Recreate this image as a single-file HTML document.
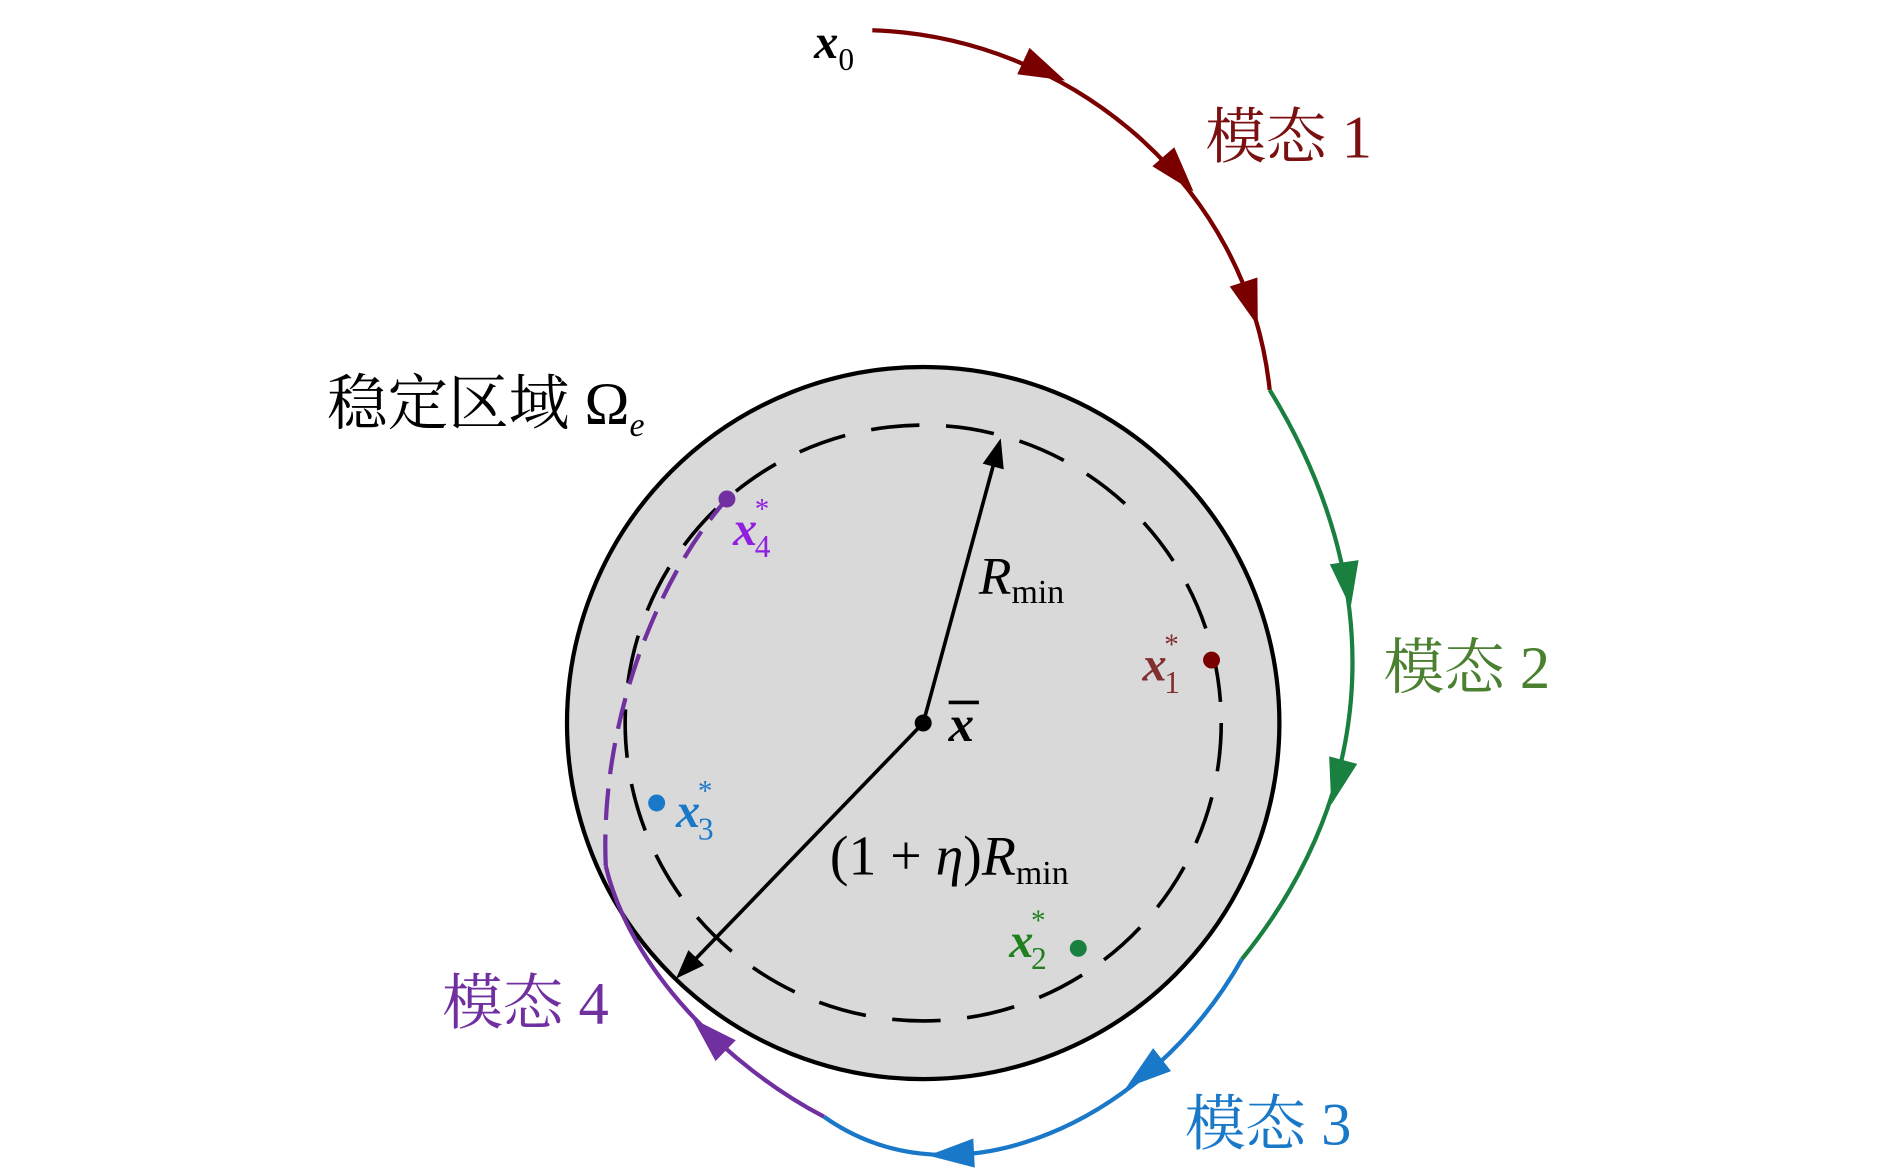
<!DOCTYPE html>
<html><head><meta charset="utf-8"><style>
html,body{margin:0;padding:0;background:#fff;}
svg{display:block;}
text{font-family:"Liberation Serif","Noto Serif CJK SC",serif;}
.m{font-style:italic;font-weight:bold;}
</style></head><body>
<svg width="1890" height="1176" viewBox="0 0 1560 971" preserveAspectRatio="none" xmlns="http://www.w3.org/2000/svg">
<rect width="1560" height="971" fill="#fff"/>
<circle cx="762" cy="597" r="294" fill="#d9d9d9" stroke="#000" stroke-width="3.5"/>
<circle cx="762" cy="597" r="246" fill="none" stroke="#000" stroke-width="3" stroke-dasharray="40,22"/>
<line x1="762" y1="597" x2="821" y2="380" stroke="#000" stroke-width="3"/>
<g transform="translate(826,362) rotate(-75)"><polygon points="0,0 -24,-9 -24,9" fill="#000"/></g>
<line x1="762" y1="597" x2="572" y2="794" stroke="#000" stroke-width="3"/>
<g transform="translate(558,808) rotate(134)"><polygon points="0,0 -24,-9 -24,9" fill="#000"/></g>
<circle cx="762" cy="597" r="7" fill="#000"/>
<path d="M720,25 C880,30 1030,150 1048,322" fill="none" stroke="#7a0000" stroke-width="3.5"/>
<path d="M1048,322 C1145,480 1140,650 1025,792" fill="none" stroke="#1a8040" stroke-width="3.5"/>
<path d="M1025,792 C950,925 790,1000 680,922" fill="none" stroke="#1a78c8" stroke-width="3.5"/>
<path d="M680,922 C600,880 520,800 500,715" fill="none" stroke="#7030a0" stroke-width="3.5"/>
<path d="M500,715 C495,600 540,480 600,412" fill="none" stroke="#7030a0" stroke-width="3.5" stroke-dasharray="26,12"/>
<g fill="#7a0000">
<g transform="translate(861,58) rotate(25)"><polygon points="20,0 -18,-12 -18,12"/></g>
<g transform="translate(972,143) rotate(49)"><polygon points="20,0 -18,-12 -18,12"/></g>
<g transform="translate(1032,250) rotate(72)"><polygon points="20,0 -18,-12 -18,12"/></g>
</g>
<g fill="#1a8040">
<g transform="translate(1112,482) rotate(82)"><polygon points="20,0 -18,-12 -18,12"/></g>
<g transform="translate(1104,645) rotate(105)"><polygon points="20,0 -18,-12 -18,12"/></g>
</g>
<g fill="#1a78c8">
<g transform="translate(945,886) rotate(142)"><polygon points="20,0 -18,-12 -18,12"/></g>
<g transform="translate(786,953) rotate(177)"><polygon points="20,0 -18,-12 -18,12"/></g>
</g>
<g fill="#7030a0">
<g transform="translate(586,855) rotate(224)"><polygon points="20,0 -18,-12 -18,12"/></g>
</g>
<circle cx="1000" cy="545" r="7" fill="#7a0000"/>
<circle cx="890" cy="783" r="7" fill="#1a8040"/>
<circle cx="542" cy="663" r="7" fill="#1a78c8"/>
<circle cx="600" cy="412" r="7" fill="#7030a0"/>
<text x="672" y="48" font-size="40" class="m">x<tspan font-size="26" font-weight="normal" font-style="normal" dy="10">0</tspan></text>
<text x="995" y="130" font-size="50" fill="#7a1010">模态 1</text>
<text x="1142" y="568" font-size="50" fill="#4a8030">模态 2</text>
<text x="978" y="945" font-size="50" fill="#1a78c8">模态 3</text>
<text x="365" y="845" font-size="50" fill="#7030a0">模态 4</text>
<text x="270" y="350" font-size="50" fill="#000">稳定区域 Ω<tspan font-size="28" font-style="italic" dy="10">e</tspan></text>
<text x="808" y="490" font-size="44" font-style="italic">R<tspan font-size="28" font-style="normal" dy="8">min</tspan></text>
<text x="783" y="612" font-size="42" class="m">x</text>
<line x1="783" y1="580" x2="808" y2="580" stroke="#000" stroke-width="3"/>
<text x="685" y="722" font-size="46">(1 + <tspan font-style="italic">η</tspan>)<tspan font-style="italic">R</tspan><tspan font-size="28" dy="8">min</tspan></text>
<text x="943" y="562" font-size="40" class="m" fill="#803030">x<tspan font-size="24" font-weight="normal" font-style="normal" dx="-2" dy="-22">*</tspan><tspan font-size="26" font-weight="normal" font-style="normal" dx="-12" dy="32">1</tspan></text>
<text x="833" y="790" font-size="40" class="m" fill="#208020">x<tspan font-size="24" font-weight="normal" font-style="normal" dx="-2" dy="-22">*</tspan><tspan font-size="26" font-weight="normal" font-style="normal" dx="-12" dy="32">2</tspan></text>
<text x="558" y="683" font-size="40" class="m" fill="#1a78c8">x<tspan font-size="24" font-weight="normal" font-style="normal" dx="-2" dy="-22">*</tspan><tspan font-size="26" font-weight="normal" font-style="normal" dx="-12" dy="32">3</tspan></text>
<text x="605" y="450" font-size="40" class="m" fill="#9020e0">x<tspan font-size="24" font-weight="normal" font-style="normal" dx="-2" dy="-22">*</tspan><tspan font-size="26" font-weight="normal" font-style="normal" dx="-12" dy="32">4</tspan></text>
</svg>
</body></html>
